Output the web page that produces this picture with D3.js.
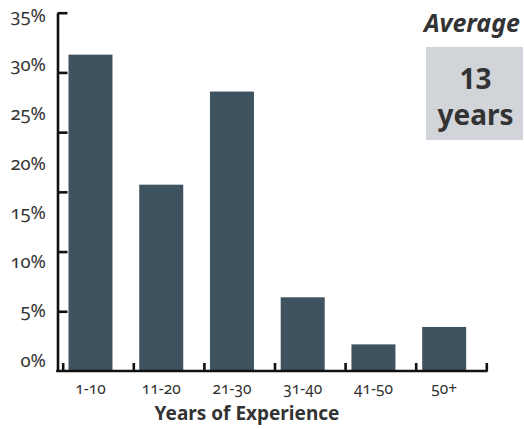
<!DOCTYPE html>
<html>
<head>
<meta charset="utf-8">
<script src="https://cdn.jsdelivr.net/npm/d3@7/dist/d3.min.js"></script>
<style>
  body { margin: 0; background: #fff; }
  text { font-family: "Noto Sans", "Open Sans", sans-serif; fill: #333; }
  .num { font-variant-numeric: oldstyle-nums; font-feature-settings: "onum" 1; }
</style>
</head>
<body>
<div id="chart"></div>
<script>
// experience buckets and share of respondents (%)
var categories = ["1-10", "11-20", "21-30", "31-40", "41-50", "50+"];
var values = [30.9, 18.2, 27.3, 7.2, 2.6, 4.3];
var tickLabels = [0, 5, 10, 15, 20, 25, 30, 35];
var averageYears = 13;

var width = 524, height = 429;

var svg = d3.select("#chart").append("svg")
            .attr("width", width)
            .attr("height", height);

var x = d3.scaleBand()
          .domain(categories)
          .range([57, 486])
          .paddingInner(0.378)
          .paddingOuter(0.2213)
          .align(0.367);

var y = d3.scaleLinear()
          .domain([0, 35])
          .range([371, 12.7]);

// label positions don't line up with the tick marks in the original
var yLab = d3.scaleLinear()
             .domain([0, 35])
             .range([366.5, 22]);

// tick marks sit on the band edges
var xTick = d3.scaleLinear()
              .domain([0, categories.length])
              .range([62.7, 486.3]);

svg.selectAll(".bar")
   .data(values)
   .enter()
   .append("rect")
   .attr("class", "bar")
   .attr("x", function(d, i) { return x(categories[i]); })
   .attr("y", function(d) { return y(d); })
   .attr("width", x.bandwidth())
   .attr("height", function(d) { return y(0) - y(d); })
   .attr("fill", "#3e5260");

// y axis: line + inward ticks, no labels
var yAxis = svg.append("g")
               .attr("transform", "translate(57.5,0)")
               .call(d3.axisLeft(y)
                       .tickValues(d3.range(1, 7).map(function(i) { return i * 35 / 6; }))
                       .tickSizeInner(-10)
                       .tickSizeOuter(0)
                       .tickFormat(""));
yAxis.selectAll("path, line").attr("stroke", "#111").attr("stroke-width", 2.6);

svg.selectAll(".ylab")
   .data(tickLabels)
   .enter()
   .append("text")
   .attr("class", "ylab num")
   .attr("x", 46)
   .attr("y", function(d) { return yLab(d); })
   .attr("text-anchor", "end")
   .attr("font-size", "18.5px")
   .text(function(d) { return d + "%"; });

// x axis
var xAxis = svg.append("g")
               .attr("transform", "translate(0," + y(0) + ")")
               .call(d3.axisBottom(xTick)
                       .tickValues(d3.range(categories.length + 1))
                       .tickSizeInner(-8)
                       .tickSizeOuter(0)
                       .tickFormat(""));
xAxis.select(".domain").remove();
xAxis.selectAll("line").attr("stroke", "#111").attr("stroke-width", 2.6);
xAxis.append("line")
     .attr("x1", 56.2)
     .attr("x2", xTick.range()[1] + 1.3)
     .attr("stroke", "#111")
     .attr("stroke-width", 2.6);

svg.selectAll(".xlab")
   .data(categories)
   .enter()
   .append("text")
   .attr("class", "xlab num")
   .attr("x", function(d) { return x(d) + x.bandwidth() / 2; })
   .attr("y", 393.5)
   .attr("text-anchor", "middle")
   .attr("font-size", "15.5px")
   .text(function(d) { return d; });

svg.append("text")
   .attr("x", 247)
   .attr("y", 420)
   .attr("text-anchor", "middle")
   .attr("font-size", "19px")
   .attr("font-weight", "bold")
   .text("Years of Experience");

// average callout
svg.append("text")
   .attr("x", 520)
   .attr("y", 31.5)
   .attr("text-anchor", "end")
   .attr("font-size", "25px")
   .attr("font-weight", "bold")
   .attr("font-style", "italic")
   .text("Average");

svg.append("rect")
   .attr("x", 426)
   .attr("y", 47)
   .attr("width", 97)
   .attr("height", 93)
   .attr("fill", "#d1d5d9");

var avg = svg.append("text")
             .attr("text-anchor", "middle")
             .attr("font-weight", "bold");
avg.append("tspan")
   .attr("x", 475.5)
   .attr("y", 89.3)
   .attr("font-size", "28px")
   .text(averageYears);
avg.append("tspan")
   .attr("x", 475.5)
   .attr("y", 125)
   .attr("font-size", "28px")
   .text("years");
</script>
</body>
</html>
